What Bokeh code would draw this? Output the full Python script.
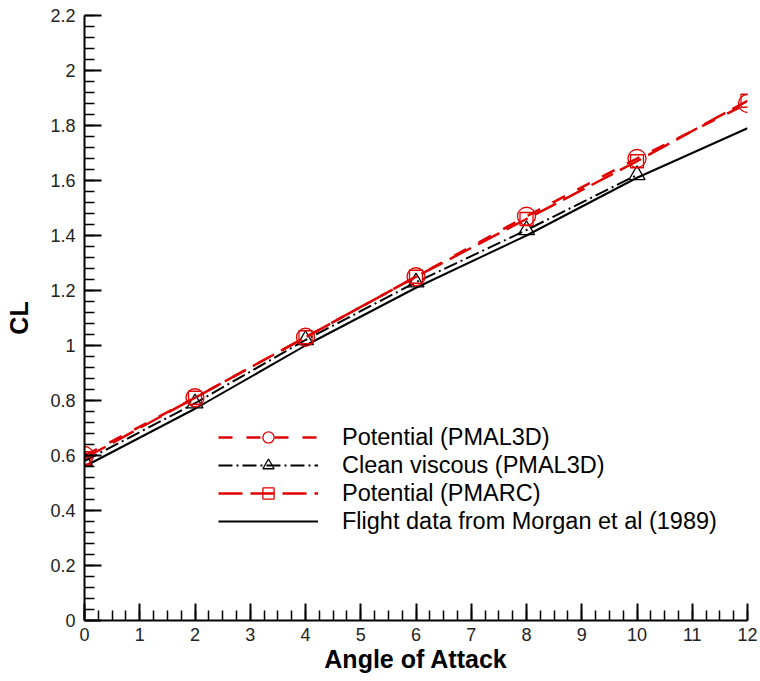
from bokeh.plotting import figure
from bokeh.models import (Range1d, FixedTicker, CustomJSTickFormatter, Legend, LegendItem)
from bokeh.embed import file_html
from bokeh.resources import INLINE

# Angle of attack (deg) and lift coefficient for each data set
alpha = [0, 2, 4, 6, 8, 10, 12]
cl_pmal3d_potential = [0.60, 0.81, 1.03, 1.25, 1.47, 1.68, 1.88]
alpha_viscous = [0, 2, 4, 6, 8, 10]
cl_pmal3d_viscous = [0.58, 0.79, 1.02, 1.23, 1.42, 1.62]
cl_pmarc_potential = [0.59, 0.81, 1.03, 1.25, 1.46, 1.67, 1.89]
cl_flight = [0.56, 0.77, 1.00, 1.21, 1.40, 1.61, 1.79]

x_ticks = [0, 1, 2, 3, 4, 5, 6, 7, 8, 9, 10, 11, 12]
y_ticks = [0, 0.2, 0.4, 0.6, 0.8, 1.0, 1.2, 1.4, 1.6, 1.8, 2.0, 2.2]
x_minor = [i * 0.25 for i in range(0, 49)]
y_minor = [i * 0.04 for i in range(0, 56)]

RED = "#e00000"
FONT = "Liberation Sans"

p = figure(width=760, height=681, output_backend="svg", toolbar_location=None,
           x_range=Range1d(0, 12), y_range=Range1d(0, 2.2),
           min_border_left=84, min_border_right=13, min_border_top=15, min_border_bottom=61)
p.outline_line_color = None
p.xgrid.visible = False
p.ygrid.visible = False
p.background_fill_color = "white"
p.border_fill_color = "white"

for ax in (p.xaxis[0], p.yaxis[0]):
    ax.axis_line_width = 2
    ax.axis_line_color = "black"
    ax.major_tick_in = 17
    ax.major_tick_out = 0
    ax.minor_tick_in = 10
    ax.minor_tick_out = 0
    ax.major_tick_line_width = 2
    ax.minor_tick_line_width = 1.5
    ax.major_label_text_font = FONT
    ax.major_label_text_font_size = "18px"
    ax.major_label_text_color = "#222222"
    ax.axis_label_text_font = FONT
    ax.axis_label_text_font_style = "bold"
    ax.axis_label_text_font_size = "25px"
    ax.axis_label_text_color = "black"

p.xaxis.ticker = FixedTicker(ticks=x_ticks, minor_ticks=x_minor)
p.yaxis.ticker = FixedTicker(ticks=y_ticks, minor_ticks=y_minor)
p.yaxis.formatter = CustomJSTickFormatter(code="return tick.toFixed(1).replace(/\\.0$/, '');")
p.xaxis.major_label_standoff = 7
p.yaxis.major_label_standoff = 9
p.xaxis.axis_label = "Angle of Attack"
p.yaxis.axis_label = "CL"
p.xaxis.axis_label_standoff = 1
p.yaxis.axis_label_standoff = 14

# Flight data
r_flight = p.line(alpha, cl_flight, line_color="black", line_width=2)

# PMAL3D clean viscous
r_visc_l = p.line(alpha_viscous, cl_pmal3d_viscous, line_color="black", line_width=2,
                  line_dash="14 4 2 4")
r_visc_m = p.scatter(alpha_viscous, cl_pmal3d_viscous, marker="triangle", size=16,
                     line_color="black", fill_color=None, line_width=1.3)

# PMARC potential
r_pmarc_l = p.line(alpha, cl_pmarc_potential, line_color=RED, line_width=2.5,
                   line_dash="24 8")
r_pmarc_m = p.scatter(alpha, cl_pmarc_potential, marker="square", size=13,
                      line_color=RED, fill_color=None, line_width=1.3)

# PMAL3D potential
r_pot_l = p.line(alpha, cl_pmal3d_potential, line_color=RED, line_width=2.5,
                 line_dash="14 14")
r_pot_m = p.scatter(alpha, cl_pmal3d_potential, marker="circle", size=18,
                    line_color=RED, fill_color=None, line_width=1.3)

legend = Legend(items=[
    LegendItem(label="Potential (PMAL3D)", renderers=[r_pot_l, r_pot_m]),
    LegendItem(label="Clean viscous (PMAL3D)", renderers=[r_visc_l, r_visc_m]),
    LegendItem(label="Potential (PMARC)", renderers=[r_pmarc_l, r_pmarc_m]),
    LegendItem(label="Flight data from Morgan et al (1989)", renderers=[r_flight]),
], location=(134, 85))
legend.glyph_width = 100
legend.glyph_height = 28
legend.label_height = 28
legend.spacing = 0
legend.padding = 0
legend.margin = 0
legend.label_standoff = 24
legend.border_line_color = None
legend.background_fill_alpha = 0
legend.label_text_font = FONT
legend.label_text_font_size = "23.5px"
legend.label_text_color = "black"
p.add_layout(legend, "center")

open("out.html", "w").write(file_html(p, INLINE))
